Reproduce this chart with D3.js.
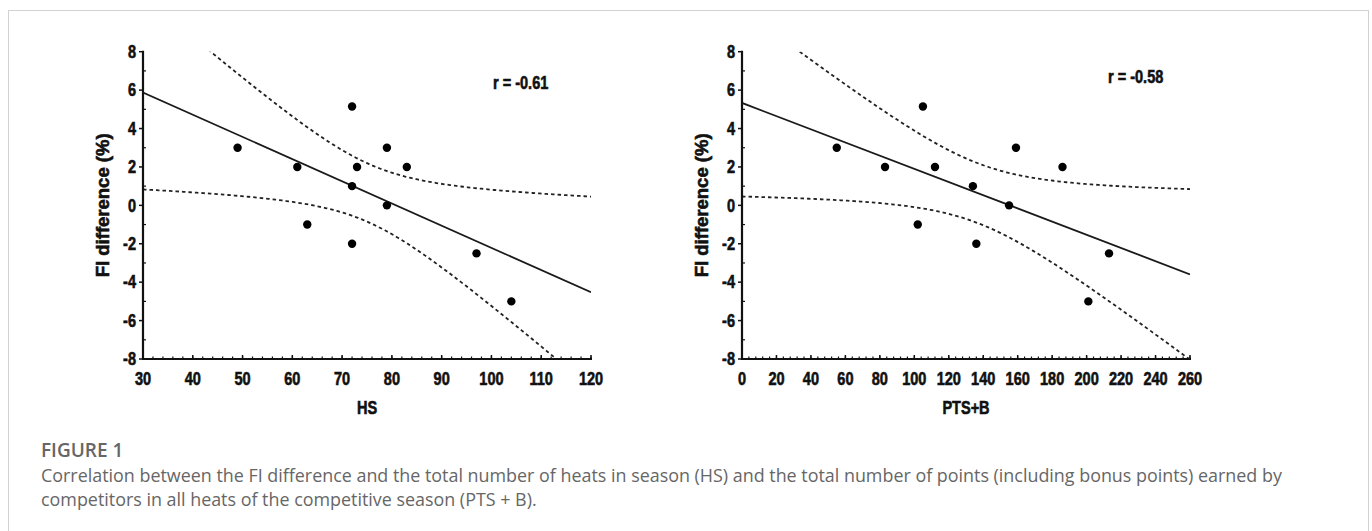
<!DOCTYPE html>
<html>
<head>
<meta charset="utf-8">
<script src="https://cdn.jsdelivr.net/npm/d3@7"></script>
<style>
  body { margin: 0; background: #fff; }
  svg text.lbl {
    font-family: "Liberation Sans", Arial, sans-serif;
    font-weight: bold;
    fill: #111;
    stroke: #111;
    stroke-width: 0.6px;
  }
  .caption-head { font-family: "Open Sans", sans-serif; font-weight: 600; fill: #666; font-size: 19px; }
  .caption { font-family: "Open Sans", sans-serif; fill: #666; font-size: 17.9px; }
</style>
</head>
<body>
<svg id="fig" width="1372" height="531"></svg>
<script>
// heats in season (HS) vs FI difference
var hsValues = [49, 61, 63, 72, 72, 72, 73, 79, 79, 83, 97, 104];
var hsDiff   = [3, 2, -1, 5.15, 1, -2, 2, 3, 0, 2, -2.5, -5];

// points incl. bonus (PTS+B) vs FI difference
var ptsValues = [55, 83, 102, 105, 112, 134, 136, 155, 159, 186, 201, 213];
var ptsDiff   = [3, 2, -1, 5.15, 2, 1, -2, 0, 3, 2, -5, -2.5];

var yTicks = [-8, -6, -4, -2, 0, 2, 4, 6, 8];
var hsTicks = [30, 40, 50, 60, 70, 80, 90, 100, 110, 120];
var ptsTicks = [0, 20, 40, 60, 80, 100, 120, 140, 160, 180, 200, 220, 240, 260];

var svg = d3.select("#fig");

// card border
svg.append("rect")
    .attr("x", 8.5).attr("y", 10.5)
    .attr("width", 1360).attr("height", 600)
    .attr("fill", "none")
    .attr("stroke", "#d2d2d2");

var t975df10 = 2.228;

// condensed bold label (the original uses a narrow bold face)
var addLabel = function(g, x, y, txt, anchor, dy) {
    return g.append("text").attr("class", "lbl")
        .attr("transform", "translate(" + x + "," + y + ") scale(0.83,1)")
        .attr("dy", dy || 0)
        .attr("text-anchor", anchor)
        .attr("font-size", 17.5)
        .text(txt);
};

/*
 * one scatter panel with fit line and 95% confidence band
 */
function drawPanel(opt) {
    var x = d3.scaleLinear().domain(opt.xDomain).range([opt.left, opt.left + 448]);
    var y = d3.scaleLinear().domain([-8, 8]).range([359, 51.7]);
    var g = svg.append("g");

    var clipId = "clip" + opt.id;
    svg.append("clipPath").attr("id", clipId)
        .append("rect")
        .attr("x", x.range()[0]).attr("y", y.range()[1])
        .attr("width", x.range()[1] - x.range()[0])
        .attr("height", y.range()[0] - y.range()[1]);

    // least squares
    var xs = opt.xs, ys = opt.ys, n = xs.length;
    var mx = d3.mean(xs), my = d3.mean(ys);
    var sxx = 0, sxy = 0, syy = 0;
    for (var i = 0; i < n; i++) {
        sxx += (xs[i] - mx) * (xs[i] - mx);
        sxy += (xs[i] - mx) * (ys[i] - my);
        syy += (ys[i] - my) * (ys[i] - my);
    }
    var b = sxy / sxx;
    var a = my - b * mx;
    var s = Math.sqrt((syy - sxy * sxy / sxx) / (n - 2));
    var r = sxy / Math.sqrt(sxx * syy);

    var grid = d3.range(0, 201).map(function(k) {
        return opt.xDomain[0] + (opt.xDomain[1] - opt.xDomain[0]) * k / 200;
    });
    var band = function(sign) {
        return grid.map(function(xv) {
            var hw = t975df10 * s * Math.sqrt(1 / n + (xv - mx) * (xv - mx) / sxx);
            return [xv, a + b * xv + sign * hw];
        });
    };
    var line = d3.line()
        .x(function(d) { return x(d[0]); })
        .y(function(d) { return y(d[1]); });

    var plot = g.append("g").attr("clip-path", "url(#" + clipId + ")");
    [1, -1].forEach(function(sg) {
        plot.append("path")
            .attr("d", line(band(sg)))
            .attr("fill", "none")
            .attr("stroke", "#222")
            .attr("stroke-width", 1.8)
            .attr("stroke-dasharray", "3.5,3");
    });
    plot.append("path")
        .attr("d", line([[opt.xDomain[0], a + b * opt.xDomain[0]], [opt.xDomain[1], a + b * opt.xDomain[1]]]))
        .attr("fill", "none")
        .attr("stroke", "#1a1a1a")
        .attr("stroke-width", 1.8);

    // axes
    var axisColor = "#111";
    g.append("line")
        .attr("x1", x.range()[0]).attr("x2", x.range()[0])
        .attr("y1", y.range()[1] - 1).attr("y2", y.range()[0] + 1)
        .attr("stroke", axisColor).attr("stroke-width", 2.2);
    g.append("line")
        .attr("x1", x.range()[0] - 1).attr("x2", x.range()[1] + 1)
        .attr("y1", y.range()[0]).attr("y2", y.range()[0])
        .attr("stroke", axisColor).attr("stroke-width", 2.2);

    // y ticks: major outward, minor inward
    yTicks.forEach(function(v) {
        g.append("line")
            .attr("x1", x.range()[0] - 4).attr("x2", x.range()[0])
            .attr("y1", y(v)).attr("y2", y(v))
            .attr("stroke", axisColor).attr("stroke-width", 1.5);
        addLabel(g, x.range()[0] - 7, y(v), v, "end", "0.36em");
    });
    d3.range(-7, 8, 2).forEach(function(v) {
        g.append("line")
            .attr("x1", x.range()[0]).attr("x2", x.range()[0] + 3)
            .attr("y1", y(v)).attr("y2", y(v))
            .attr("stroke", axisColor).attr("stroke-width", 1.2);
    });

    // x ticks point up into the plot
    var minorStep = (opt.xTicks[1] - opt.xTicks[0]) / 5;
    d3.range(opt.xDomain[0], opt.xDomain[1] + 0.001, minorStep).forEach(function(v) {
        g.append("line")
            .attr("x1", x(v)).attr("x2", x(v))
            .attr("y1", y.range()[0]).attr("y2", y.range()[0] - 2.5)
            .attr("stroke", axisColor).attr("stroke-width", 1.2);
    });
    opt.xTicks.forEach(function(v) {
        g.append("line")
            .attr("x1", x(v)).attr("x2", x(v))
            .attr("y1", y.range()[0]).attr("y2", y.range()[0] - 4)
            .attr("stroke", axisColor).attr("stroke-width", 1.5);
        addLabel(g, x(v), 384.5, v, "middle");
    });

    // points
    g.selectAll("circle.pt")
        .data(xs.map(function(d, k) { return [d, ys[k]]; }))
        .enter().append("circle")
        .attr("class", "pt")
        .attr("cx", function(d) { return x(d[0]); })
        .attr("cy", function(d) { return y(d[1]); })
        .attr("r", 4.2)
        .attr("fill", "#000");

    // titles
    addLabel(g, (x.range()[0] + x.range()[1]) / 2, 413.5, opt.xTitle, "middle");
    g.append("text").attr("class", "lbl")
        .attr("transform", "translate(" + (opt.left - 34) + "," + y(0) + ") rotate(-90)")
        .attr("text-anchor", "middle")
        .attr("font-size", 18.5)
        .text("FI difference (%)");
    addLabel(g, opt.rx, opt.ry, "r = " + r.toFixed(2), "start", "0.36em");
}

drawPanel({ id: "hs", left: 143, xDomain: [30, 120], xTicks: hsTicks,
            xs: hsValues, ys: hsDiff, xTitle: "HS", rx: 493, ry: 83 });
drawPanel({ id: "pts", left: 742, xDomain: [0, 260], xTicks: ptsTicks,
            xs: ptsValues, ys: ptsDiff, xTitle: "PTS+B", rx: 1108, ry: 77 });

// caption
svg.append("text").attr("class", "caption-head")
    .attr("x", 41).attr("y", 457)
    .text("FIGURE 1");
svg.append("text").attr("class", "caption")
    .attr("x", 41).attr("y", 482)
    .text("Correlation between the FI difference and the total number of heats in season (HS) and the total number of points (including bonus points) earned by");
svg.append("text").attr("class", "caption")
    .attr("x", 41).attr("y", 506)
    .text("competitors in all heats of the competitive season (PTS + B).");
</script>
</body>
</html>
